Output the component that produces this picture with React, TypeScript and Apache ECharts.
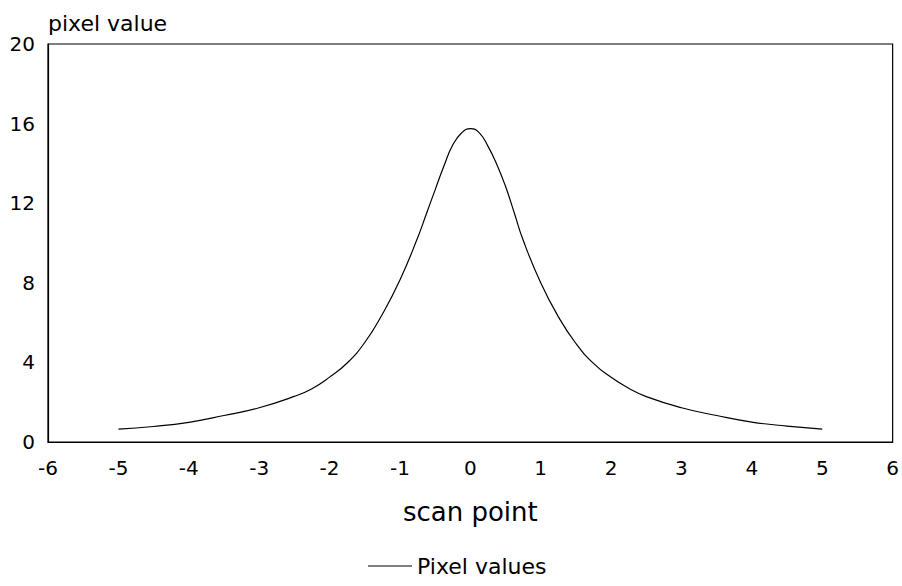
import React, { useEffect, useRef } from "react";
import * as echarts from "echarts";

const scanPoints = [-5, -4.5, -4, -3.5, -3, -2.5, -2.25, -2, -1.75, -1.5, -1.25, -1, -0.75, -0.625, -0.5, -0.375, -0.25, -0.125, 0, 0.125, 0.25, 0.375, 0.5, 0.625, 0.75, 1, 1.25, 1.5, 1.75, 2, 2.25, 2.5, 3, 3.5, 4, 4.5, 5];
const pixelValues = [0.65, 0.78, 0.99, 1.33, 1.72, 2.29, 2.68, 3.26, 3.97, 5.0, 6.42, 8.14, 10.25, 11.46, 12.67, 13.87, 14.92, 15.53, 15.75, 15.55, 14.87, 13.96, 12.85, 11.51, 10.15, 8.0, 6.3, 4.95, 3.95, 3.25, 2.7, 2.28, 1.72, 1.33, 1.0, 0.8, 0.65];
const seriesName = "Pixel values";
const xAxisTitle = "scan point";
const yAxisTitle = "pixel value";

const FONT = "'DejaVu Sans', 'Liberation Sans', Arial, sans-serif";

export default function App() {
  const ref = useRef<HTMLDivElement>(null);
  useEffect(() => {
    if (!ref.current) return;
    const chart = echarts.init(ref.current, null, { renderer: "svg" });
    chart.setOption({
      animation: false,
      backgroundColor: "#fff",
      grid: { left: 48, right: 9, top: 44, bottom: 144, show: true, borderColor: "#000", borderWidth: 1.2 },
      legend: {
        top: 550,
        left: 363,
        itemWidth: 44,
        itemHeight: 2,
        itemGap: 10,
        textStyle: { fontFamily: FONT, fontSize: 22, color: "#000" },
        data: [{ name: seriesName, icon: "path://M0,0L40,0L40,1L0,1Z" }],
      },
      xAxis: {
        type: "value",
        min: -6,
        max: 6,
        interval: 1,
        name: xAxisTitle,
        nameLocation: "middle",
        nameGap: 70,
        nameTextStyle: { fontFamily: FONT, fontSize: 26, color: "#000", verticalAlign: "middle" },
        axisLine: { onZero: false, lineStyle: { color: "#000", width: 1.2 } },
        axisTick: { show: false },
        splitLine: { show: false },
        axisLabel: { fontFamily: FONT, fontSize: 20, color: "#000", margin: 16 },
      },
      yAxis: {
        type: "value",
        min: 0,
        max: 20,
        interval: 4,
        name: yAxisTitle,
        nameLocation: "end",
        nameGap: 21,
        nameTextStyle: { fontFamily: FONT, fontSize: 22, color: "#000", align: "left", verticalAlign: "middle" },
        axisLine: { show: true, onZero: false, lineStyle: { color: "#000", width: 1.2 } },
        axisTick: { show: false },
        splitLine: { show: false },
        axisLabel: { fontFamily: FONT, fontSize: 20, color: "#000", margin: 13 },
      },
      series: [
        {
          name: seriesName,
          type: "line",
          smooth: 0.5,
          showSymbol: false,
          symbol: "none",
          lineStyle: { color: "#000", width: 1.2 },
          itemStyle: { color: "#000" },
          data: scanPoints.map((x, i) => [x, pixelValues[i]]),
        },
      ],
    });
    return () => chart.dispose();
  }, []);
  return (
    <div
      ref={ref}
      style={{ position: "absolute", left: 0, top: 0, width: 902, height: 586 }}
    />
  );
}
